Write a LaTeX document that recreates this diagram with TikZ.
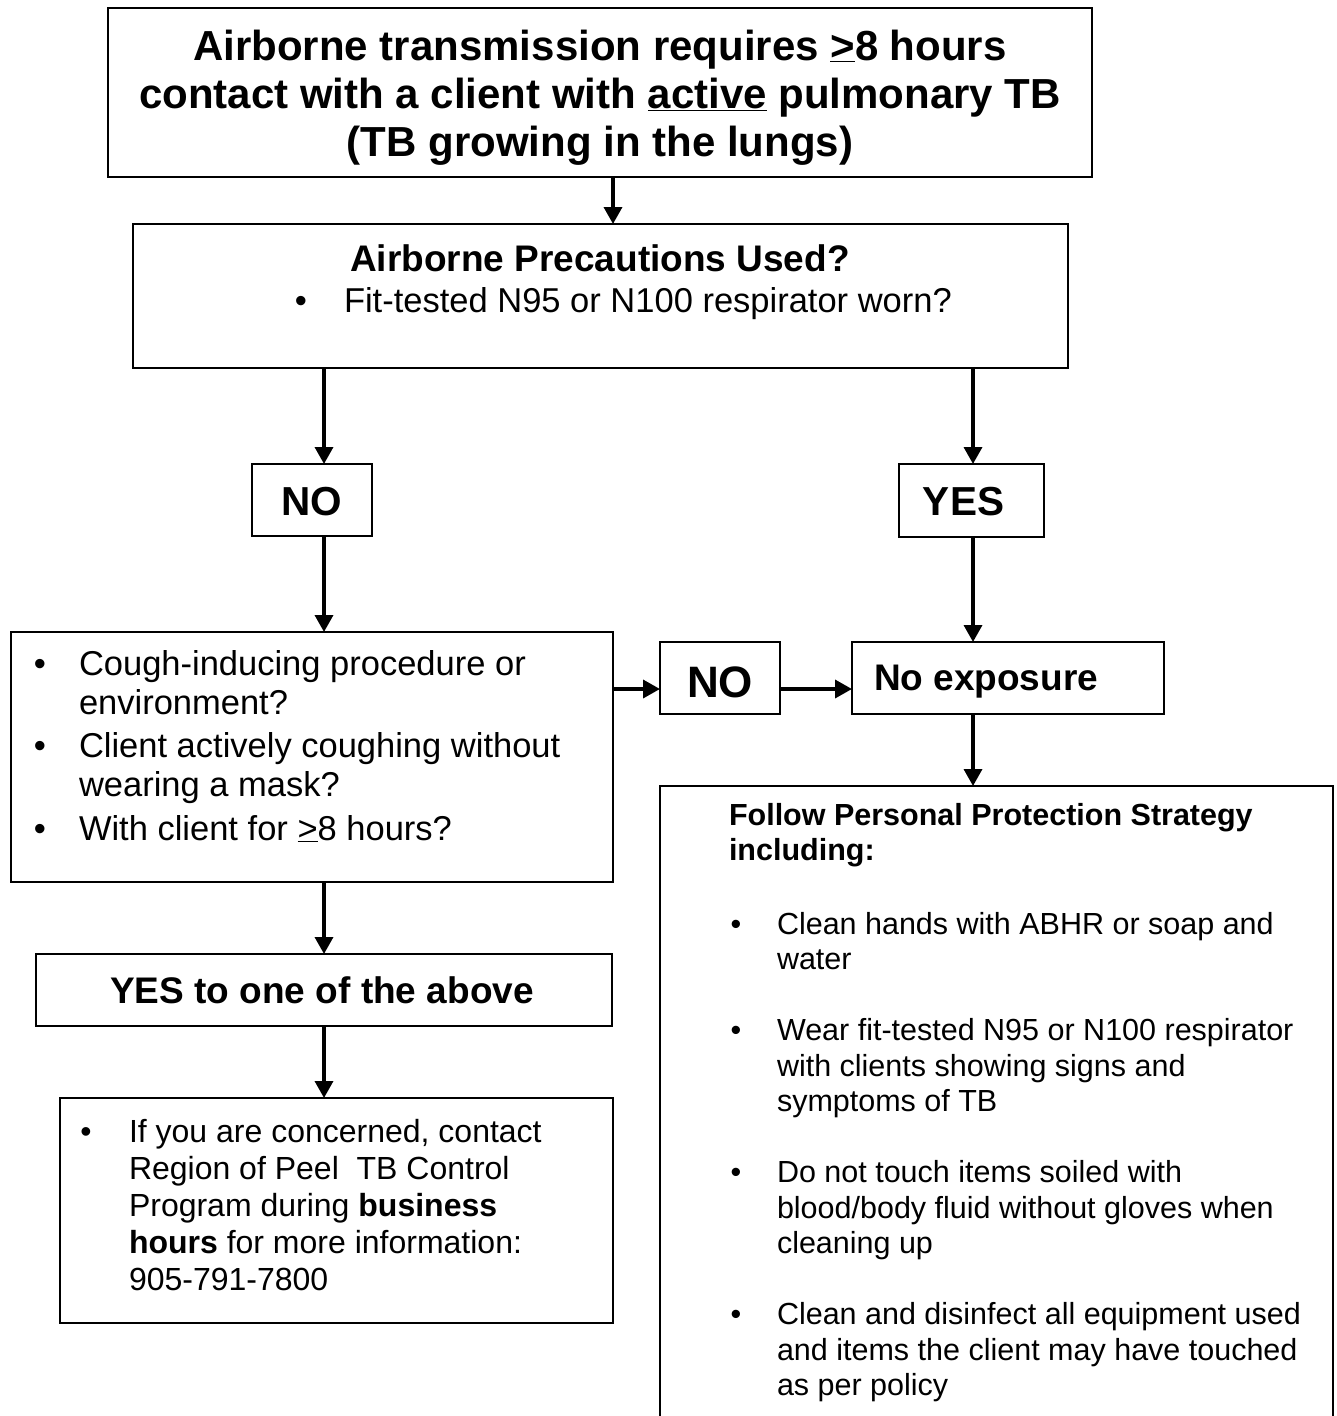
\documentclass[tikz,border=0pt]{standalone}
\usepackage{fontspec}
\setmainfont{Liberation Sans}
\usetikzlibrary{arrows.meta}

% font sizes (in pt, one unit of the picture is one pt)
\newcommand\fTop{\fontsize{42}{48}\selectfont\bfseries}
\newcommand\fHead{\fontsize{37}{42}\selectfont\bfseries}
\newcommand\fBody{\fontsize{34.5}{39.7}\selectfont}
\newcommand\fYN{\fontsize{40.5}{46}\selectfont\bfseries}
\newcommand\fNObig{\fontsize{44}{50}\selectfont\bfseries}
\newcommand\fInfo{\fontsize{32}{37}\selectfont}
\newcommand\fPPS{\fontsize{30.5}{35.5}\selectfont}

\begin{document}
\begin{tikzpicture}[x=1pt,y=-1pt,
  box/.style={draw, line width=1.8pt, rectangle, inner sep=0pt, outer sep=0pt},
  arr/.style={line width=3.5pt, -{Triangle[length=17pt,width=18pt]}},
  txt/.style={inner sep=0pt, outer sep=0pt, align=left},
  ctxt/.style={inner sep=0pt, outer sep=0pt, align=center},
  dot/.style={inner sep=0pt, outer sep=0pt}]

\useasboundingbox (0,0) rectangle (1336,1416);
\clip (0,0) rectangle (1336,1416);

% columns of the vertical connectors
\coordinate (xm) at (613,0);
\coordinate (xl) at (324,0);
\coordinate (xr) at (973,0);
\coordinate (yh) at (0,689);

% ---------- boxes ----------
\node[box, minimum width=984pt, minimum height=169pt] (top)  at (600,92.5) {};
\node[box, minimum width=935pt, minimum height=144pt] (prec) at (600.5,296) {};
\node[box, minimum width=120pt, minimum height=72pt]  (no1)  at (312,500) {};
\node[box, minimum width=145pt, minimum height=73pt]  (yes1) at (971.5,500.5) {};
\node[box, minimum width=602pt, minimum height=250pt] (cough) at (312,757) {};
\node[box, minimum width=120pt, minimum height=72pt]  (no2)  at (720,678) {};
\node[box, minimum width=312pt, minimum height=72pt]  (noexp) at (1008,678) {};
\node[box, minimum width=576pt, minimum height=72pt]  (yes2) at (324,990) {};
\node[box, minimum width=553pt, minimum height=225pt] (info) at (336.5,1210.5) {};
\node[box, anchor=north west, minimum width=673pt, minimum height=700pt] (pps) at (660,786) {};

% ---------- texts (multi-line nodes sit on the baseline of their last line) ----------
\node[ctxt, anchor=base, font=\fTop] (topT) at (600,156)
  {Airborne transmission requires \underline{>}8 hours\\
   contact with a client with \underline{active} pulmonary TB\\
   (TB growing in the lungs)};

\node[txt, anchor=base, font=\fHead] (precT) at (600,271) {Airborne Precautions Used?};
\node[dot, anchor=base, font=\fBody] (precD) at (301,312) {\textbullet};
\node[txt, anchor=base west, font=\fBody] (precL) at (344,312) {Fit-tested N95 or N100 respirator worn?};

\node[txt, anchor=base, font=\fYN] (no1T)  at (312,515) {NO};
\node[txt, anchor=base, font=\fYN] (yes1T) at (963.5,515) {YES};

\node[dot, anchor=base, font=\fBody] (cD1) at (40,675) {\textbullet};
\node[txt, anchor=base west, font=\fBody] (cL1) at (79,714.7) {Cough-inducing procedure or\\environment?};
\node[dot, anchor=base, font=\fBody] (cD2) at (40,757) {\textbullet};
\node[txt, anchor=base west, font=\fBody] (cL2) at (79,796.7) {Client actively coughing without\\wearing a mask?};
\node[dot, anchor=base, font=\fBody] (cD3) at (40,840) {\textbullet};
\node[txt, anchor=base west, font=\fBody] (cL3) at (79,840) {With client for \underline{>}8 hours?};

\node[txt, anchor=base, font=\fNObig] (no2T) at (720,697) {NO};
\node[txt, anchor=base west, font=\fHead] (noexpT) at (874,690) {No exposure};

\node[txt, anchor=base, font=\fHead] (yes2T) at (322,1003) {YES to one of the above};

\node[dot, anchor=base, font=\fInfo] (iD) at (86,1142) {\textbullet};
\node[txt, anchor=base west, font=\fInfo] (iL) at (129,1290)
  {If you are concerned, contact\\
   Region of Peel\ \ TB Control\\
   Program during \textbf{business}\\
   \textbf{hours} for more information:\\
   905-791-7800};

\node[txt, anchor=base west, font=\fPPS\bfseries] (ppsT) at (729,860.5)
  {Follow Personal Protection Strategy\\including:};
\node[dot, anchor=base, font=\fPPS] (pD1) at (736,934) {\textbullet};
\node[txt, anchor=base west, font=\fPPS] (pL1) at (777,969.5)
  {Clean hands with ABHR or soap and\\water};
\node[dot, anchor=base, font=\fPPS] (pD2) at (736,1040.5) {\textbullet};
\node[txt, anchor=base west, font=\fPPS] (pL2) at (777,1111.5)
  {Wear fit-tested N95 or N100 respirator\\with clients showing signs and\\symptoms of TB};
\node[dot, anchor=base, font=\fPPS] (pD3) at (736,1182.5) {\textbullet};
\node[txt, anchor=base west, font=\fPPS] (pL3) at (777,1253.5)
  {Do not touch items soiled with\\blood/body fluid without gloves when\\cleaning up};
\node[dot, anchor=base, font=\fPPS] (pD4) at (736,1324.5) {\textbullet};
\node[txt, anchor=base west, font=\fPPS] (pL4) at (777,1395.5)
  {Clean and disinfect all equipment used\\and items the client may have touched\\as per policy};

% ---------- connectors ----------
\draw[arr] (top.south -| xm) -- (prec.north -| xm);
\draw[arr] (prec.south -| xl) -- (no1.north -| xl);
\draw[arr] (prec.south -| xr) -- (yes1.north -| xr);
\draw[arr] (no1.south -| xl) -- (cough.north -| xl);
\draw[arr] (yes1.south -| xr) -- (noexp.north -| xr);
\draw[arr] (cough.east |- yh) -- (no2.west |- yh);
\draw[arr] (no2.east |- yh) -- (noexp.west |- yh);
\draw[arr] (noexp.south -| xr) -- (pps.north -| xr);
\draw[arr] (cough.south -| xl) -- (yes2.north -| xl);
\draw[arr] (yes2.south -| xl) -- (info.north -| xl);

\end{tikzpicture}
\end{document}
